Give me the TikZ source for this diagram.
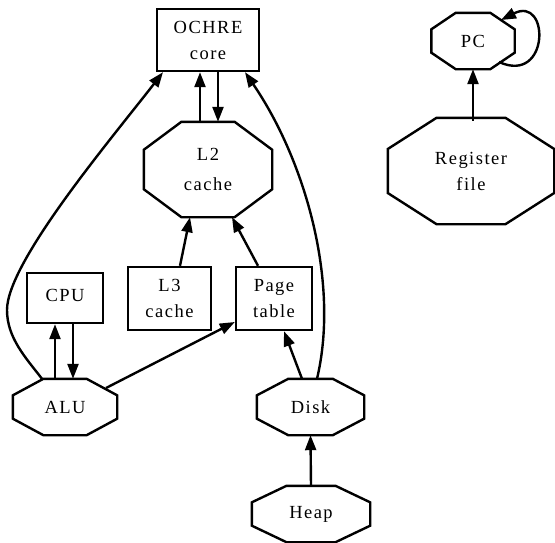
\documentclass[tikz,border=0pt]{standalone}
\usepackage{fontspec}
\setmainfont{Liberation Serif}[LetterSpace=8]
\usetikzlibrary{arrows.meta,calc}

% outline of an octagon-shaped node, drawn around its bounding rectangle
\newcommand\octagonpath[1]{%
  \draw[edgeline]
    ($(#1.north west)!0.293!(#1.north east)$) --
    ($(#1.north west)!0.707!(#1.north east)$) --
    ($(#1.north east)!0.293!(#1.south east)$) --
    ($(#1.north east)!0.707!(#1.south east)$) --
    ($(#1.south east)!0.293!(#1.south west)$) --
    ($(#1.south east)!0.707!(#1.south west)$) --
    ($(#1.south west)!0.293!(#1.north west)$) --
    ($(#1.south west)!0.707!(#1.north west)$) -- cycle;}

\tikzset{
  every node/.style={font=\fontsize{18.5}{26}\selectfont, align=center, inner sep=0pt},
  edgeline/.style={line width=2.4pt},
  box/.style={draw, edgeline},
  oct/.style={draw=none},
  arr/.style={edgeline, -{Triangle[length=15pt,width=11pt]}},
}

\begin{document}
\begin{tikzpicture}[x=1pt, y=-1pt]
\useasboundingbox (0,0) rectangle (555,542);

% nodes
\node[box, minimum width=102pt, minimum height=62pt] (ochre) at (208,40) {OCHRE\\core};
\node[oct, minimum width=128pt, minimum height=95pt] (l2) at (208,169.5) {\raisebox{2pt}{L2}\\[2pt]cache};
\node[oct, minimum width=83pt, minimum height=56pt] (pc) at (473,41) {PC};
\node[oct, minimum width=166pt, minimum height=106pt] (reg) at (471,171) {Register\\file};
\node[box, minimum width=76pt, minimum height=50pt] (cpu) at (65,298) {\raisebox{6pt}{CPU}};
\node[box, minimum width=83pt, minimum height=63pt] (l3) at (169.5,298.5) {L3\\cache};
\node[box, minimum width=76pt, minimum height=63pt] (page) at (274,298.5) {Page\\table};
\node[oct, minimum width=104pt, minimum height=56pt] (alu) at (65,407) {ALU};
\node[oct, minimum width=107pt, minimum height=56pt] (disk) at (310.5,407) {Disk};
\node[oct, minimum width=118pt, minimum height=56pt] (heap) at (311,514) {Heap};

% the register-file text sits 3pt above the centre of its outline
\octagonpath{l2}\octagonpath{pc}\octagonpath{alu}\octagonpath{disk}\octagonpath{heap}
\begin{scope}[yshift=-3pt]\octagonpath{reg}\end{scope}

% connectors
\draw[arr] ([xshift=-8pt]l2.north) -- ([xshift=-8pt]ochre.south);
\draw[arr] ([xshift=10pt]ochre.south) -- ([xshift=10pt]l2.north);
\draw[arr] ([xshift=10.5pt]l3.north) -- ([xshift=-18pt]l2.south);
\draw[arr] ([xshift=-16pt]page.north) -- ([xshift=24pt]l2.south);
\draw[arr] ([xshift=-10pt]alu.north) -- ([xshift=-10pt]cpu.south);
\draw[arr] ([xshift=8pt]cpu.south) -- ([xshift=8pt]alu.north);
\draw[arr] ([xshift=41pt,yshift=19pt]alu.center) -- ([yshift=-23.5pt]page.west);
\draw[arr] ([xshift=-8.5pt]disk.north) -- ([xshift=10pt]page.south);
\draw[arr] (heap.north) -- (disk.south);
\draw[arr] ([xshift=2pt,yshift=-3pt]reg.north) -- (pc.south);
\draw[arr] ([xshift=-23pt]alu.north) .. controls (26,358) and (7,338) .. (7,310)
  .. controls (7,262) and (112,138) .. ([xshift=-45pt]ochre.south);
\draw[arr] ([xshift=6.5pt]disk.north) .. controls (340,282) and (305,160) .. ([xshift=37pt]ochre.south);
\draw[arr] ([xshift=26pt,yshift=-21pt]pc.center) .. controls (550,85) and (550,-5) .. ([xshift=28pt,yshift=21pt]pc.center);
\end{tikzpicture}
\end{document}
